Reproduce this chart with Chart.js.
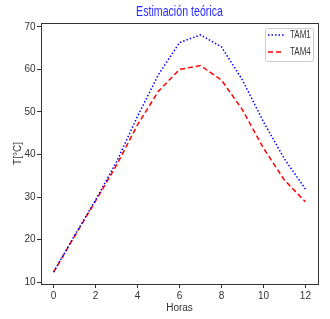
<!DOCTYPE html>
<html>
<head>
<meta charset="utf-8">
<script src="https://cdn.jsdelivr.net/npm/chart.js@4/dist/chart.umd.min.js"></script>
<style>html,body{margin:0;background:#fff}</style>
</head>
<body>
<canvas id="graf" width="330" height="319"></canvas>
<script>
// datos
const horas = [0, 1, 2, 3, 4, 5, 6, 7, 8, 9, 10, 11, 12];
const tam1 = [12.4, 21.0, 29.3, 38.3, 49.0, 58.8, 66.3, 68.1, 65.3, 57.5, 47.7, 39.0, 31.9];
const tam4 = [12.4, 20.8, 29.1, 37.5, 47.0, 54.9, 60.0, 60.9, 57.5, 50.5, 41.5, 34.0, 28.9];
const xTicks = [0, 2, 4, 6, 8, 10, 12];
const yTicks = [10, 20, 30, 40, 50, 60, 70];
const titulo = "Estimación teórica";

const fuente = "'Liberation Sans Narrow', 'Liberation Sans', sans-serif";
const gris = "#333";

// texto comprimido en horizontal (la figura original usa letra estrecha)
function textoEstrecho(ctx, txt, x, y, k) {
  ctx.save();
  ctx.translate(x, y);
  ctx.scale(k, 1);
  ctx.fillText(txt, 0, 0);
  ctx.restore();
}

// marco completo alrededor del area de datos + titulo centrado sobre ella
const marco = {
  id: "marco",
  afterDatasetsDraw(chart) {
    const { ctx, chartArea: a } = chart;
    ctx.save();
    ctx.strokeStyle = gris;
    ctx.lineWidth = 1;
    ctx.strokeRect(Math.round(a.left) + 0.5, Math.round(a.top) + 0.5,
      Math.round(a.right - a.left), Math.round(a.bottom - a.top));
    ctx.fillStyle = "#2a2aff";
    ctx.font = "14px " + fuente;
    ctx.textAlign = "center";
    ctx.textBaseline = "middle";
    textoEstrecho(ctx, titulo, (a.left + a.right) / 2, 12.5, 0.76);
    ctx.restore();
  }
};

// leyenda dentro del grafico, arriba a la derecha
const leyenda = {
  id: "leyenda",
  afterDraw(chart) {
    const { ctx, chartArea: a } = chart;
    const x0 = a.right - 53, y0 = a.top + 5, w = 48, h = 33;
    ctx.save();
    ctx.fillStyle = "rgba(255,255,255,0.8)";
    ctx.strokeStyle = "#ccc";
    ctx.lineWidth = 1;
    ctx.beginPath();
    ctx.roundRect(x0 + 0.5, y0 + 0.5, w, h, 2);
    ctx.fill();
    ctx.stroke();
    ctx.font = "10px " + fuente;
    ctx.textBaseline = "middle";
    chart.data.datasets.forEach((ds, i) => {
      const y = y0 + 7 + i * 17;
      ctx.strokeStyle = ds.borderColor;
      ctx.lineWidth = ds.borderWidth;
      ctx.setLineDash(ds.borderDash);
      ctx.beginPath();
      ctx.moveTo(x0 + 3, y);
      ctx.lineTo(x0 + 19, y);
      ctx.stroke();
      ctx.setLineDash([]);
      ctx.fillStyle = gris;
      textoEstrecho(ctx, ds.label, x0 + 25, y, 0.8);
    });
    ctx.restore();
  }
};

const aPuntos = (vals) => vals.map((v, i) => ({ x: horas[i], y: v }));

new Chart(document.getElementById("graf"), {
  type: "line",
  data: {
    datasets: [
      {
        label: "TAM1",
        data: aPuntos(tam1),
        borderColor: "blue",
        borderWidth: 1.5,
        borderDash: [1.5, 2],
        pointRadius: 0,
        tension: 0
      },
      {
        label: "TAM4",
        data: aPuntos(tam4),
        borderColor: "red",
        borderWidth: 1.5,
        borderDash: [5, 3],
        pointRadius: 0,
        tension: 0
      }
    ]
  },
  options: {
    responsive: false,
    animation: false,
    layout: { padding: { top: 23, right: 12, bottom: 0, left: 0 } },
    plugins: {
      legend: { display: false },
      tooltip: { enabled: false },
      title: { display: false }
    },
    scales: {
      x: {
        type: "linear",
        min: -0.6,
        max: 12.6,
        afterBuildTicks: (s) => { s.ticks = xTicks.map(v => ({ value: v })); },
        afterFit: (s) => { s.height = 35; },
        grid: { drawOnChartArea: false, drawTicks: true, tickLength: 4, color: gris },
        border: { display: false },
        ticks: { color: gris, padding: 2.7, maxRotation: 0, font: { family: fuente, size: 10 } },
        title: {
          display: true,
          text: "Horas",
          color: gris,
          font: { family: fuente, size: 10 },
          padding: { top: 0, bottom: 4.7 }
        }
      },
      y: {
        min: 9.6,
        max: 70.9,
        afterBuildTicks: (s) => { s.ticks = yTicks.map(v => ({ value: v })); },
        afterFit: (s) => { s.width = 41; },
        grid: { drawOnChartArea: false, drawTicks: true, tickLength: 4, color: gris },
        border: { display: false },
        ticks: { color: gris, padding: 1.5, font: { family: fuente, size: 10 } },
        title: {
          display: true,
          text: "T[°C]",
          color: gris,
          font: { family: fuente, size: 10 },
          padding: { top: 12, bottom: 0 }
        }
      }
    }
  },
  plugins: [marco, leyenda]
});
</script>
</body>
</html>
